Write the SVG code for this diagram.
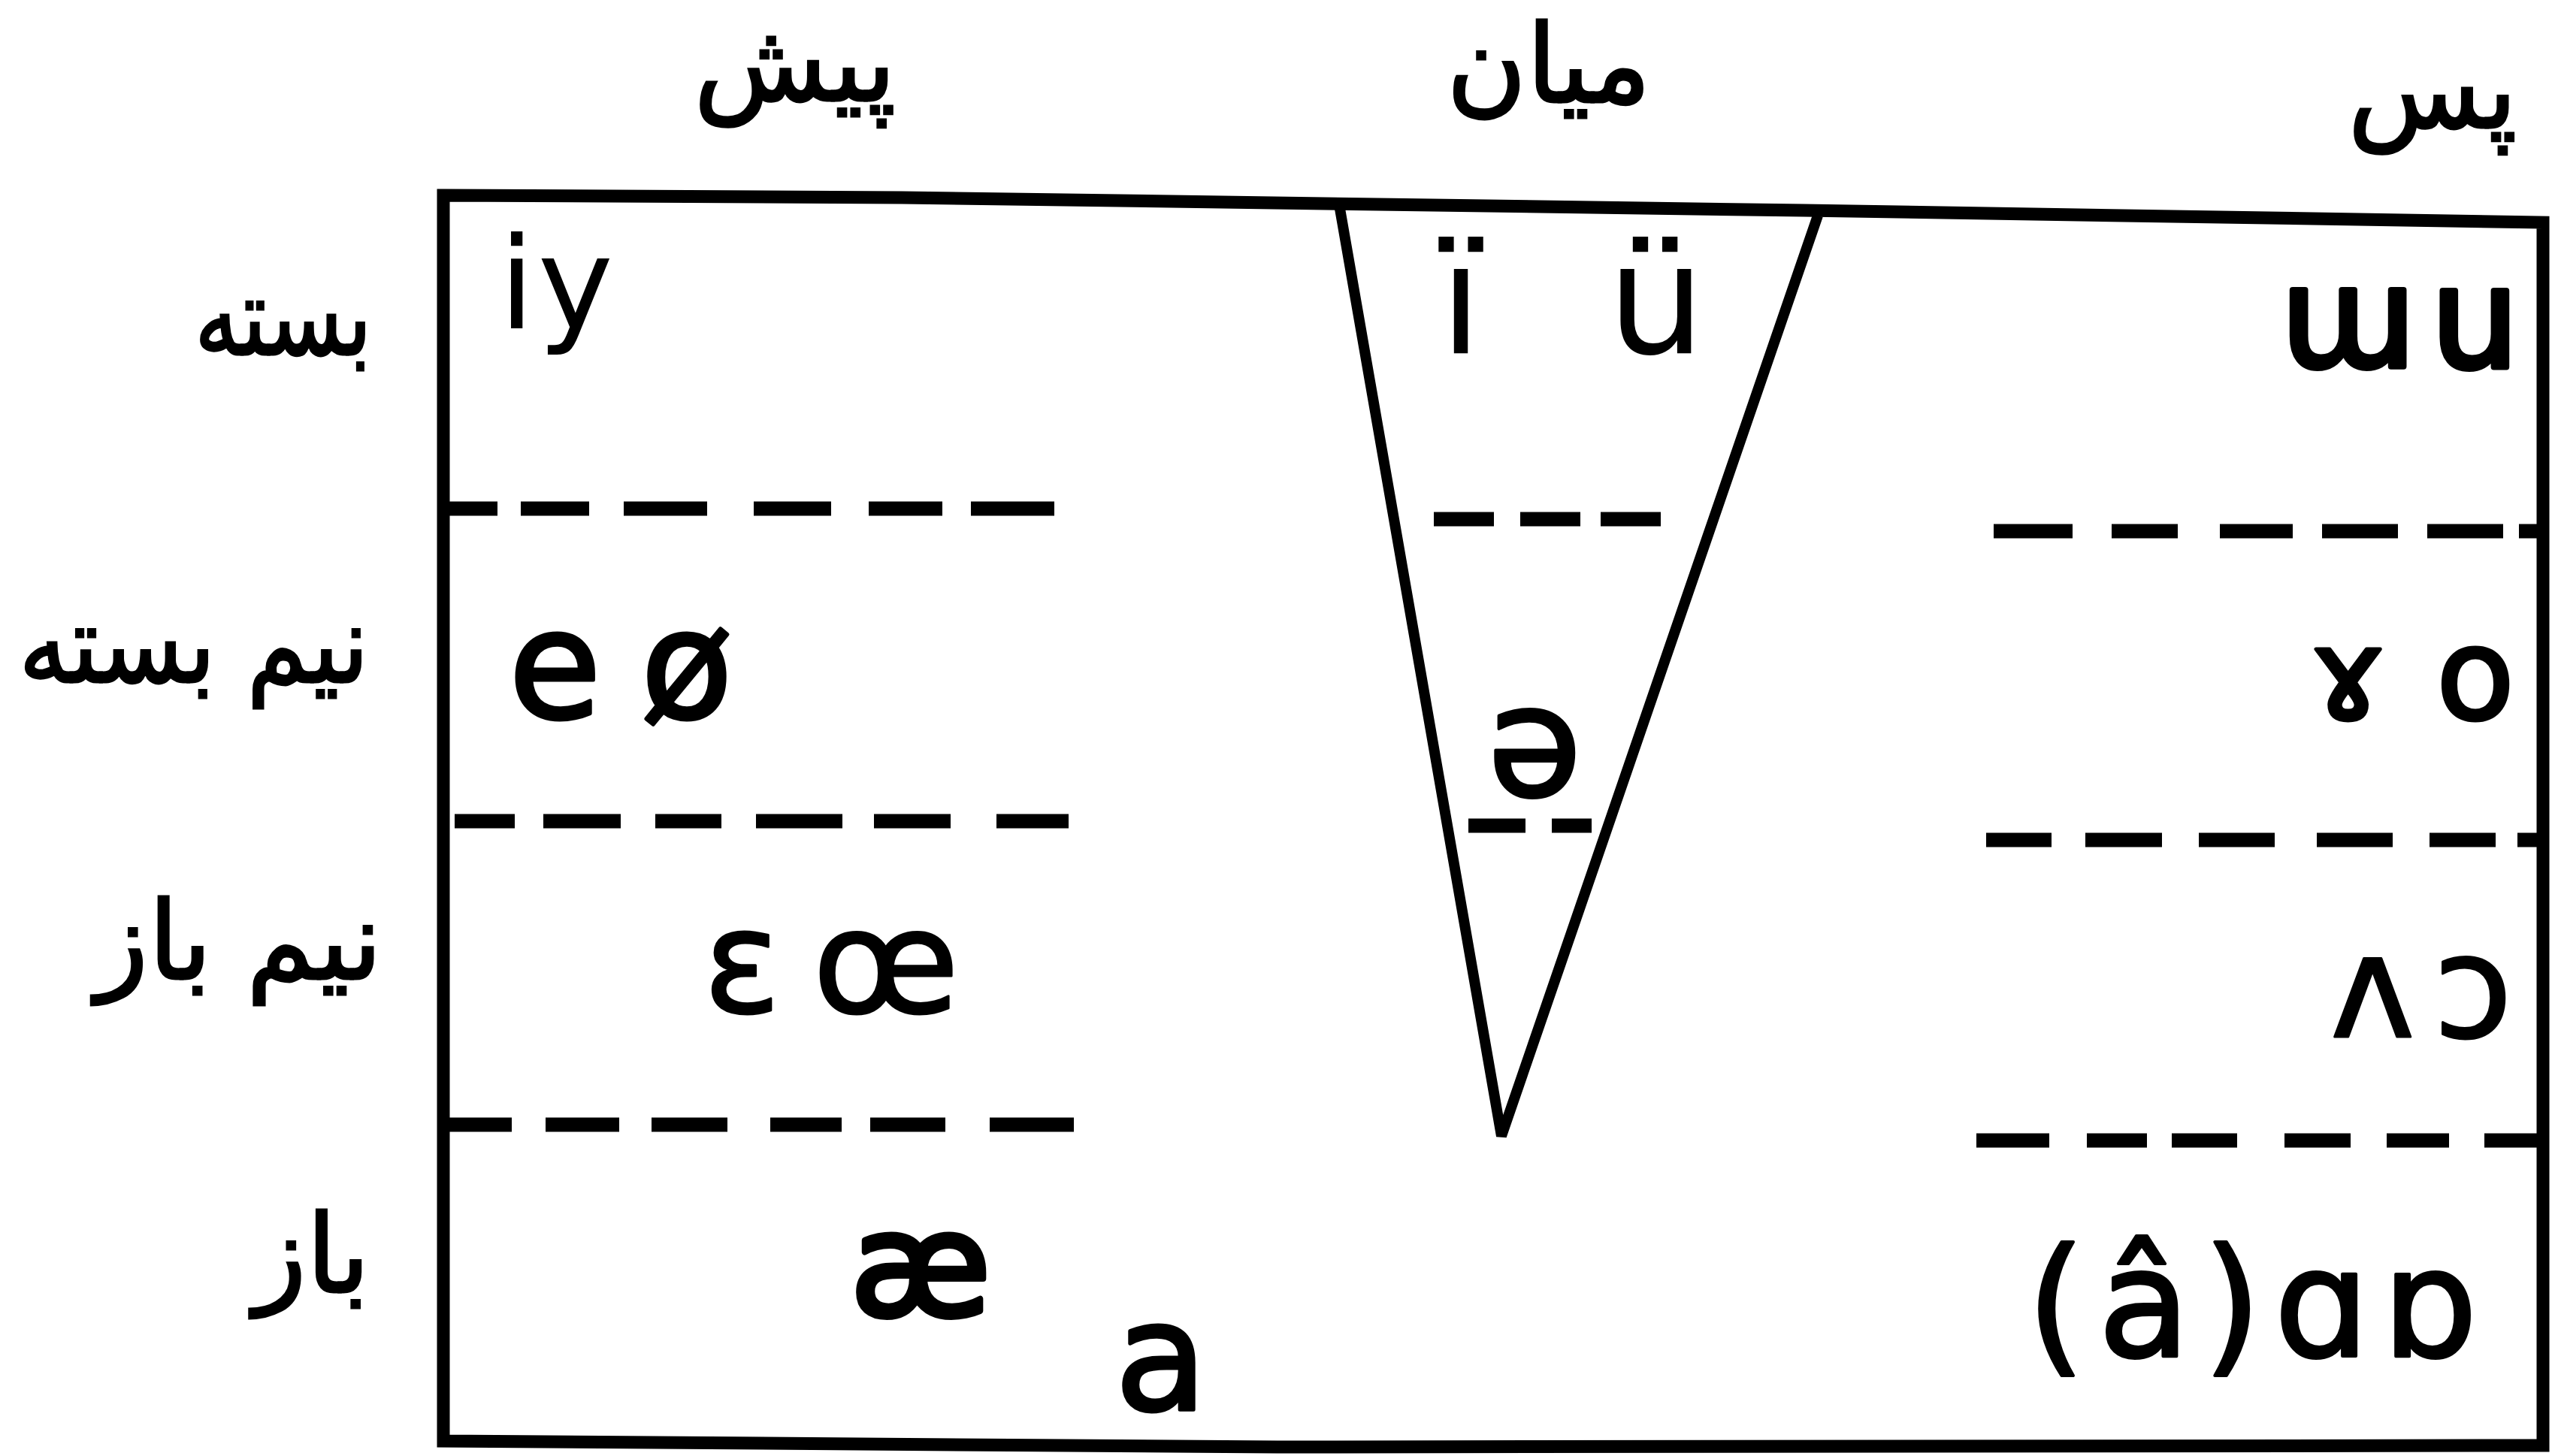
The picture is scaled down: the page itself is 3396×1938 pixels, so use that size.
<svg xmlns="http://www.w3.org/2000/svg" width="3396" height="1938" viewBox="0 0 3396 1938">
<style>
.frame{fill:none;stroke:#000;stroke-width:17;stroke-linejoin:miter}
.tri{fill:none;stroke:#000;stroke-width:14;stroke-linejoin:miter}
.dash{fill:none;stroke:#000;stroke-width:19;stroke-linecap:butt}
.fa{font-family:"DejaVu Sans",sans-serif;font-size:145px;fill:#000;stroke:#000;stroke-width:3px;text-anchor:middle}
.ipa{font-family:"DejaVu Sans",sans-serif;font-weight:normal;fill:#000;stroke:#000;stroke-width:5px;stroke-linejoin:round;text-anchor:middle}
.thin{stroke-width:0px}
</style>
<rect width="3396" height="1938" fill="#fff"/>
<g id="chart-frame">
<path class="frame" d="M590,260 L1200,263 L2400,280 L3384,296 L3384,1924 L1700,1926 L590,1918 Z"/>
<path class="tri" d="M1782,272 L1998,1512 L2419,287"/>
</g>
<g id="dividers">
<path class="dash" d="M590,677H662M693,677H784M830,677H941M1003,677H1106M1156,677H1254M1292,677H1403"/>
<path class="dash" d="M605,1093H685M723,1093H826M872,1093H960M1006,1093H1121M1163,1093H1265M1326,1093H1422"/>
<path class="dash" d="M590,1497H681M726,1497H824M867,1497H968M1025,1497H1120M1158,1497H1258M1317,1497H1429"/>
<path class="dash" d="M1908,691H1988M2023,691H2103M2130,691H2210"/>
<path class="dash" d="M1954,1099H2030M2065,1099H2118"/>
<path class="dash" d="M2653,707H2758M2810,707H2898M2954,707H3051M3090,707H3191M3230,707H3331M3352,707H3384"/>
<path class="dash" d="M2643,1118H2730M2775,1118H2877M2926,1118H3027M3083,1118H3184M3233,1118H3321M3350,1118H3384"/>
<path class="dash" d="M2630,1518H2727M2777,1518H2857M2890,1518H2977M3040,1518H3128M3176,1518H3259M3306,1518H3384"/>
</g>
<g id="column-labels">
<text class="fa" x="1058" y="134">پیش</text>
<text class="fa" x="2061" y="136">میان</text>
<text class="fa" x="3237" y="170">پس</text>
</g>
<g id="row-labels">
<text class="fa" x="377" y="472" textLength="236" lengthAdjust="spacingAndGlyphs">بسته</text>
<text class="fa" x="258" y="908" textLength="466" lengthAdjust="spacingAndGlyphs">نیم بسته</text>
<text class="fa" x="318" y="1303">نیم باز</text>
<text class="fa" x="415" y="1720">باز</text>
</g>
<g id="front-vowels">
<text class="ipa thin" x="740" y="437" font-size="170" textLength="152">iy</text>
<text class="ipa" x="826" y="955" font-size="200" textLength="298">eø</text>
<text class="ipa" x="1106" y="1347" font-size="190" textLength="340" style="stroke-width:3px">ɛœ</text>
<text class="ipa" x="1225" y="1750" font-size="190" style="stroke-width:8px">æ</text>
<text class="ipa" x="1545" y="1876" font-size="200" style="stroke-width:5px">a</text>
</g>
<g id="central-vowels">
<text class="ipa thin" y="471" font-size="205"><tspan x="1944">ï</tspan><tspan x="2204">ü</tspan></text>
<text class="ipa" x="2042" y="1059" font-size="205" style="stroke-width:4px">ə</text>
</g>
<g id="back-vowels">
<text class="ipa" x="3193" y="488" font-size="185" textLength="318" style="stroke-width:8px">ɯu</text>
<text class="ipa" x="3210" y="957" font-size="170" textLength="272">ɤo</text>
<text class="ipa" x="3222" y="1380" font-size="190" textLength="242" style="stroke-width:3px">ʌɔ</text>
<text class="ipa" x="2997" y="1805" font-size="200" textLength="600" style="stroke-width:4px">(â)ɑɒ</text>
</g>
</svg>
